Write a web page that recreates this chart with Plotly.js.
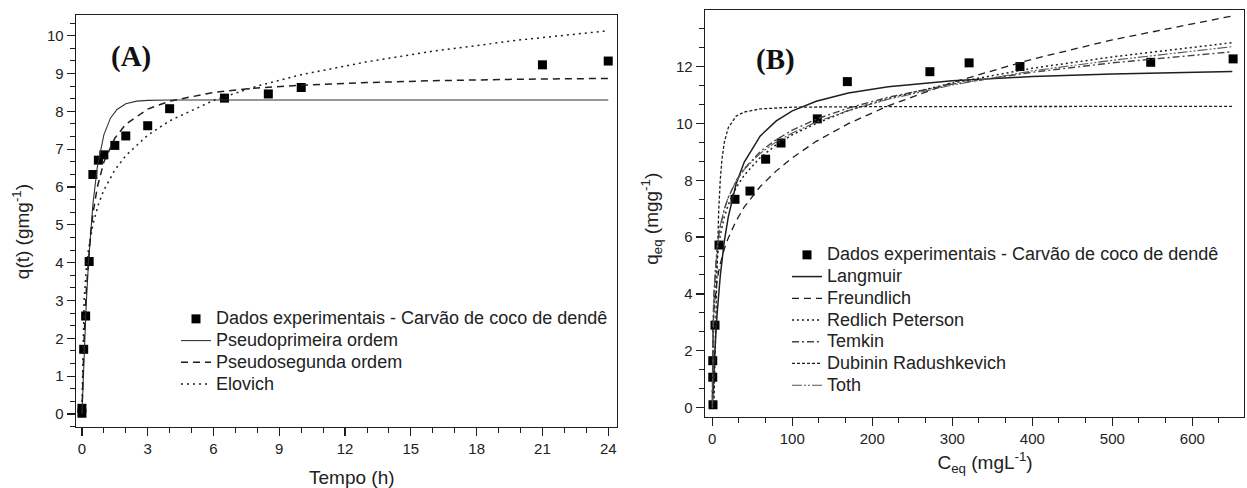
<!DOCTYPE html>
<html>
<head>
<meta charset="utf-8">
<script src="https://cdn.plot.ly/plotly-3.0.1.min.js"></script>
<style>
  html, body { margin: 0; padding: 0; background: #fff; }
  #chart { width: 1247px; height: 488px; }
</style>
</head>
<body>
<div id="chart"></div>
<script>
// ---------- (A) kinetics: adsorbed amount vs time ----------
const tempoExp = [0, 0, 0.08, 0.17, 0.33, 0.5, 0.75, 1, 1.5, 2, 3, 4, 6.5, 8.5, 10, 21, 24];
const qtExp    = [0.02, 0.15, 1.71, 2.59, 4.03, 6.33, 6.71, 6.85, 7.10, 7.35, 7.62, 8.07, 8.35, 8.46, 8.63, 9.23, 9.33];

const tempoPPO = [0, 0.05, 0.1, 0.2, 0.3, 0.4, 0.5, 0.7, 1.0, 1.3, 1.6, 2.0, 2.5, 3, 4, 6, 10, 16, 24];
const qtPPO    = [0, 0.86, 1.64, 2.95, 4.01, 4.86, 5.54, 6.52, 7.38, 7.82, 8.05, 8.20, 8.27, 8.29, 8.30, 8.30, 8.30, 8.30, 8.30];

const tempoPSO = [0, 0.05, 0.1, 0.2, 0.3, 0.4, 0.5, 0.7, 1, 1.5, 2, 3, 4, 6, 8, 10, 13, 16, 20, 24];
const qtPSO    = [0, 1.12, 2.00, 3.27, 4.15, 4.79, 5.29, 5.99, 6.66, 7.29, 7.66, 8.06, 8.27, 8.50, 8.62, 8.69, 8.76, 8.81, 8.85, 8.87];

const tempoElo = [0, 0.05, 0.1, 0.2, 0.3, 0.5, 0.75, 1, 1.5, 2, 3, 4, 6, 8, 10, 13, 16, 20, 24];
const qtElo    = [0, 2.20, 2.99, 3.84, 4.35, 5.01, 5.54, 5.92, 6.45, 6.83, 7.37, 7.75, 8.29, 8.67, 8.97, 9.31, 9.59, 9.89, 10.13];

// ---------- (B) isotherms: equilibrium amount vs concentration ----------
const ceqExp = [0.9, 0.6, 0.6, 3.4, 8.4, 28.4, 47.1, 66.7, 85.9, 131.3, 168.8, 272, 321, 384.6, 548, 651];
const qeqExp = [0.10, 1.07, 1.65, 2.90, 5.72, 7.33, 7.62, 8.74, 9.31, 10.16, 11.47, 11.82, 12.13, 12.00, 12.15, 12.27];

const ceqFit = [0, 0.5, 1, 2, 4, 6, 8, 10, 15, 20, 30, 40, 60, 80, 100, 130, 170, 220, 300, 400, 500, 650];
const qLangmuir    = [0, 0.37, 0.71, 1.34, 2.41, 3.29, 4.02, 4.64, 5.85, 6.71, 7.89, 8.64, 9.56, 10.09, 10.44, 10.78, 11.07, 11.29, 11.50, 11.65, 11.74, 11.83];
const qFreundlich  = [0, 2.47, 2.91, 3.44, 4.06, 4.47, 4.79, 5.06, 5.58, 5.97, 6.58, 7.06, 7.78, 8.33, 8.79, 9.37, 9.99, 10.62, 11.44, 12.26, 12.94, 13.78];
const qRedlich     = [0, 1.53, 2.40, 3.46, 4.59, 5.26, 5.72, 6.07, 6.70, 7.14, 7.75, 8.18, 8.80, 9.25, 9.60, 10.00, 10.45, 10.88, 11.42, 11.94, 12.34, 12.84];
const qToth        = [0, 1.60, 2.60, 3.80, 4.95, 5.60, 6.05, 6.40, 7.00, 7.40, 7.98, 8.38, 8.95, 9.35, 9.66, 10.05, 10.45, 10.85, 11.35, 11.85, 12.22, 12.70];

const ceqTemkin = [0.15, 0.5, 1, 2, 4, 6, 8, 10, 15, 20, 30, 40, 60, 80, 100, 130, 170, 220, 300, 400, 500, 650];
const qTemkin   = [0.20, 1.97, 2.99, 4.01, 5.03, 5.62, 6.05, 6.37, 6.97, 7.39, 7.99, 8.41, 9.01, 9.43, 9.76, 10.15, 10.54, 10.92, 11.38, 11.80, 12.13, 12.52];

const ceqDR = [0, 1, 2, 3, 4, 5, 6, 8, 10, 12, 15, 20, 30, 40, 60, 100, 200, 400, 650];
const qDR   = [0, 0, 0.07, 0.84, 2.30, 3.82, 5.11, 6.92, 8.02, 8.71, 9.33, 9.85, 10.26, 10.40, 10.51, 10.57, 10.59, 10.60, 10.60];

// tick labels
const ticksTempo = [0, 3, 6, 9, 12, 15, 18, 21, 24];
const ticksQt    = [0, 1, 2, 3, 4, 5, 6, 7, 8, 9, 10];
const ticksCeq   = [0, 100, 200, 300, 400, 500, 600];
const ticksQeq   = [0, 2, 4, 6, 8, 10, 12];

// series names
const nameExp = 'Dados experimentais - Carvão de coco de dendê';
const namesA = ['Pseudoprimeira ordem', 'Pseudosegunda ordem', 'Elovich'];
const namesB = ['Langmuir', 'Freundlich', 'Redlich Peterson', 'Temkin', 'Dubinin Radushkevich', 'Toth'];

// ---------- styling ----------
const W = 1247, H = 488;
const ink = '#1e1e1e';
const sans = 'Liberation Sans, Arial, sans-serif';
const serif = 'Liberation Serif, Times New Roman, serif';

// legend rows are packed tighter than the entry text size
const legendRowSize = 14.4;
const legendTextSize = 18;
const big = s => '<span style="font-size:' + legendTextSize + 'px">' + s + '</span>';
// non-breaking padding nudges a centred axis title along its axis
const pad = n => '&nbsp;'.repeat(n);

// plot frames in pixels: [left, right, top, bottom]
const frameA = [76, 617, 15, 427];
const frameB = [705, 1244, 10, 417];
const domX = f => [f[0] / W, f[1] / W];
const domY = f => [(H - f[3]) / H, (H - f[2]) / H];

const marker = { symbol: 'square', size: 9, color: '#000' };

const traces = [
  { x: tempoExp, y: qtExp, mode: 'markers', marker: marker, name: big(nameExp),
    xaxis: 'x', yaxis: 'y', legend: 'legend' },
  { x: tempoPPO, y: qtPPO, mode: 'lines', name: big(namesA[0]),
    line: { color: '#333', width: 1.1 }, xaxis: 'x', yaxis: 'y', legend: 'legend' },
  { x: tempoPSO, y: qtPSO, mode: 'lines', name: big(namesA[1]),
    line: { color: ink, width: 1.5, dash: '7px,5px' }, xaxis: 'x', yaxis: 'y', legend: 'legend' },
  { x: tempoElo, y: qtElo, mode: 'lines', name: big(namesA[2]),
    line: { color: ink, width: 1.5, dash: '2px,4px' }, xaxis: 'x', yaxis: 'y', legend: 'legend' },

  { x: ceqExp, y: qeqExp, mode: 'markers', marker: marker, name: big(nameExp),
    xaxis: 'x2', yaxis: 'y2', legend: 'legend2' },
  { x: ceqFit, y: qLangmuir, mode: 'lines', name: big(namesB[0]),
    line: { color: ink, width: 1.5 }, xaxis: 'x2', yaxis: 'y2', legend: 'legend2' },
  { x: ceqFit, y: qFreundlich, mode: 'lines', name: big(namesB[1]),
    line: { color: ink, width: 1.3, dash: '7px,5px' }, xaxis: 'x2', yaxis: 'y2', legend: 'legend2' },
  { x: ceqFit, y: qRedlich, mode: 'lines', name: big(namesB[2]),
    line: { color: ink, width: 1.5, dash: '2px,3px' }, xaxis: 'x2', yaxis: 'y2', legend: 'legend2' },
  { x: ceqTemkin, y: qTemkin, mode: 'lines', name: big(namesB[3]),
    line: { color: '#444', width: 1.4, dash: '7px,3px,2px,3px' }, xaxis: 'x2', yaxis: 'y2', legend: 'legend2' },
  { x: ceqDR, y: qDR, mode: 'lines', name: big(namesB[4]),
    line: { color: ink, width: 1.3, dash: '3px,2px' }, xaxis: 'x2', yaxis: 'y2', legend: 'legend2' },
  { x: ceqFit, y: qToth, mode: 'lines', name: big(namesB[5]),
    line: { color: '#555', width: 1.1, dash: '10px,2px,2px,2px,2px,2px' }, xaxis: 'x2', yaxis: 'y2', legend: 'legend2' }
];

const tickFont = { family: sans, size: 15, color: '#222' };
const titleFont = { family: sans, size: 19, color: '#222' };

function mainAxis(domain, anchor, range, tickvals, minorStep, title, standoff) {
  return {
    domain: domain, anchor: anchor, range: range,
    tickmode: 'array', tickvals: tickvals,
    ticks: 'outside', ticklen: 8, tickwidth: 1.2, tickcolor: ink,
    minor: { tick0: 0, dtick: minorStep, ticks: 'outside', ticklen: 4.5, tickwidth: 1, tickcolor: ink, showgrid: false },
    showline: true, linecolor: ink, linewidth: 1.4, mirror: true,
    showgrid: false, zeroline: false, tickfont: tickFont,
    title: { text: title, font: titleFont, standoff: standoff },
    automargin: false, fixedrange: true
  };
}
function mirrorAxis(overlay, anchor, side, range, tickvals, minorStep) {
  return {
    overlaying: overlay, anchor: anchor, side: side, range: range,
    tickmode: 'array', tickvals: tickvals,
    ticks: 'inside', ticklen: 6, tickwidth: 1.2, tickcolor: ink,
    minor: { tick0: 0, dtick: minorStep, ticks: 'inside', ticklen: 3.5, tickwidth: 1, tickcolor: ink, showgrid: false },
    showticklabels: false, showline: false, showgrid: false, zeroline: false,
    automargin: false, fixedrange: true
  };
}

const rangeTempo = [-0.27, 24.4];
const rangeQt = [-0.344, 10.547];
const rangeCeq = [-9.1, 664.6];
const rangeQeq = [-0.33, 13.99];

const legendBase = {
  xanchor: 'left', yanchor: 'top',
  bgcolor: 'rgba(0,0,0,0)', borderwidth: 0,
  font: { family: sans, size: legendRowSize, color: '#222' }, tracegroupgap: 0
};

const layout = {
  width: W, height: H,
  margin: { l: 0, r: 0, t: 0, b: 0 },
  paper_bgcolor: '#fff', plot_bgcolor: 'rgba(0,0,0,0)',
  font: { family: sans, color: '#222' },
  showlegend: true,

  xaxis:  mainAxis(domX(frameA), 'y',  rangeTempo, ticksTempo, 1, pad(2) + 'Tempo (h)', 14),
  yaxis:  mainAxis(domY(frameA), 'x',  rangeQt, ticksQt, 1 / 3, 'q(t) (gmg<sup>-1</sup>)' + pad(4), 12),
  xaxis2: mainAxis(domX(frameB), 'y2', rangeCeq, ticksCeq, 100 / 3, pad(4) + 'C<sub>eq</sub> (mgL<sup>-1</sup>)', 9),
  yaxis2: mainAxis(domY(frameB), 'x2', rangeQeq, ticksQeq, 2 / 3, 'q<sub>eq</sub> (mgg<sup>-1</sup>)' + pad(2), 12),

  xaxis3: mirrorAxis('x',  'y',  'top',   rangeTempo, ticksTempo, 1),
  yaxis3: mirrorAxis('y',  'x',  'right', rangeQt, ticksQt, 1 / 3),
  xaxis4: mirrorAxis('x2', 'y2', 'top',   rangeCeq, ticksCeq, 100 / 3),
  yaxis4: mirrorAxis('y2', 'x2', 'right', rangeQeq, ticksQeq, 2 / 3),

  legend:  Object.assign({}, legendBase, { x: 176 / W, y: (H - 303) / H }),
  legend2: Object.assign({}, legendBase, { x: 787 / W, y: (H - 239) / H }),

  annotations: [
    { text: '<b>(A)</b>', xref: 'paper', yref: 'paper', x: 131 / W, y: (H - 56) / H,
      xanchor: 'center', yanchor: 'middle', showarrow: false,
      font: { family: serif, size: 29, color: '#111' } },
    { text: '<b>(B)</b>', xref: 'paper', yref: 'paper', x: 775 / W, y: (H - 59) / H,
      xanchor: 'center', yanchor: 'middle', showarrow: false,
      font: { family: serif, size: 29, color: '#111' } }
  ]
};

Plotly.newPlot('chart', traces, layout, { staticPlot: true, displayModeBar: false });
</script>
</body>
</html>
